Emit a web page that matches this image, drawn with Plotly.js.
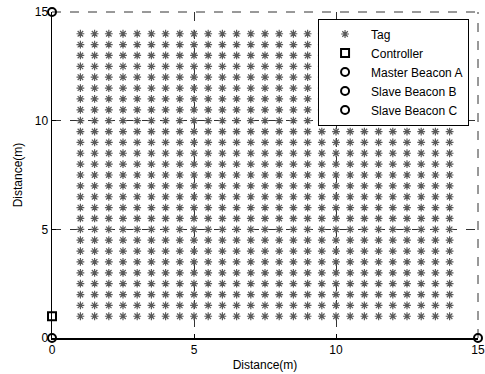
<!DOCTYPE html>
<html>
<head>
<meta charset="utf-8">
<script src="https://cdn.plot.ly/plotly-3.0.1.min.js"></script>
<style>html,body{margin:0;padding:0;background:#fff;}#chart{width:485px;height:374px;}</style>
</head>
<body>
<div id="chart"></div>
<script>
const tagCols = [1, 1.5, 2, 2.5, 3, 3.5, 4, 4.5, 5, 5.5, 6, 6.5, 7, 7.5, 8, 8.5, 9, 9.5, 10, 10.5, 11, 11.5, 12, 12.5, 13, 13.5, 14];
const tagRows = [1, 1.5, 2, 2.5, 3, 3.5, 4, 4.5, 5, 5.5, 6, 6.5, 7, 7.5, 8, 8.5, 9, 9.5, 10, 10.5, 11, 11.5, 12, 12.5, 13, 13.5, 14];
const controller = {x: [0], y: [1]};
const masterA = {x: [0], y: [0]};
const slaveB = {x: [0], y: [15]};
const slaveC = {x: [15], y: [0]};
const ticks = [0, 5, 10, 15];

const tx = [], ty = [];
tagRows.forEach(r => tagCols.forEach(c => { tx.push(c); ty.push(r); }));

const font = {family: 'Liberation Sans, Arial, sans-serif', size: 12, color: '#000'};
const circ = {symbol: 'circle-open', size: 8, color: '#000', line: {width: 2, color: '#000'}};

const traces = [
  {x: tx, y: ty, mode: 'markers', name: 'Tag', type: 'scatter',
   marker: {symbol: 'asterisk-open', size: 6.5, color: '#5a5a5a', line: {width: 1.2, color: '#5a5a5a'}}},
  {x: controller.x, y: controller.y, mode: 'markers', name: 'Controller', cliponaxis: false,
   marker: {symbol: 'square-open', size: 8, color: '#000', line: {width: 2, color: '#000'}}},
  {x: masterA.x, y: masterA.y, mode: 'markers', name: 'Master Beacon A', cliponaxis: false, marker: circ},
  {x: slaveB.x, y: slaveB.y, mode: 'markers', name: 'Slave Beacon B', cliponaxis: false, marker: circ},
  {x: slaveC.x, y: slaveC.y, mode: 'markers', name: 'Slave Beacon C', cliponaxis: false, marker: circ}
];

const axisCommon = {
  range: [0, 15], tickvals: ticks, ticktext: ticks.map(String),
  showgrid: true, gridcolor: '#333', griddash: 'dash', gridwidth: 1,
  showline: true, linecolor: '#000', linewidth: 1.5,
  ticks: 'inside', ticklen: 4, tickcolor: '#000',
  zeroline: false, tickfont: font, ticklabeloverflow: 'allow'
};

const edgeDash = {color: '#333', width: 1, dash: 'dash'};

const layout = {
  width: 485, height: 374,
  margin: {l: 52, r: 7, t: 12, b: 36},
  paper_bgcolor: '#fff', plot_bgcolor: '#fff',
  font: font,
  showlegend: true,
  xaxis: Object.assign({}, axisCommon, {title: {text: 'Distance(m)', font: font, standoff: 4}}),
  yaxis: Object.assign({}, axisCommon, {title: {text: 'Distance(m)', font: font, standoff: 9}}),
  shapes: [
    {type: 'line', xref: 'paper', yref: 'paper', x0: 0, x1: 1, y0: 1, y1: 1, line: edgeDash, layer: 'below'},
    {type: 'line', xref: 'paper', yref: 'paper', x0: 1, x1: 1, y0: 0, y1: 1, line: edgeDash, layer: 'below'}
  ],
  legend: {x: 0.979, y: 0.98, xanchor: 'right', yanchor: 'top',
           bgcolor: '#fff', bordercolor: '#000', borderwidth: 1,
           font: {family: 'Liberation Sans, Arial, sans-serif', size: 12, color: '#000'},
           tracegroupgap: 0, itemwidth: 42}
};

Plotly.newPlot('chart', traces, layout, {displayModeBar: false, staticPlot: true});
</script>
</body>
</html>
